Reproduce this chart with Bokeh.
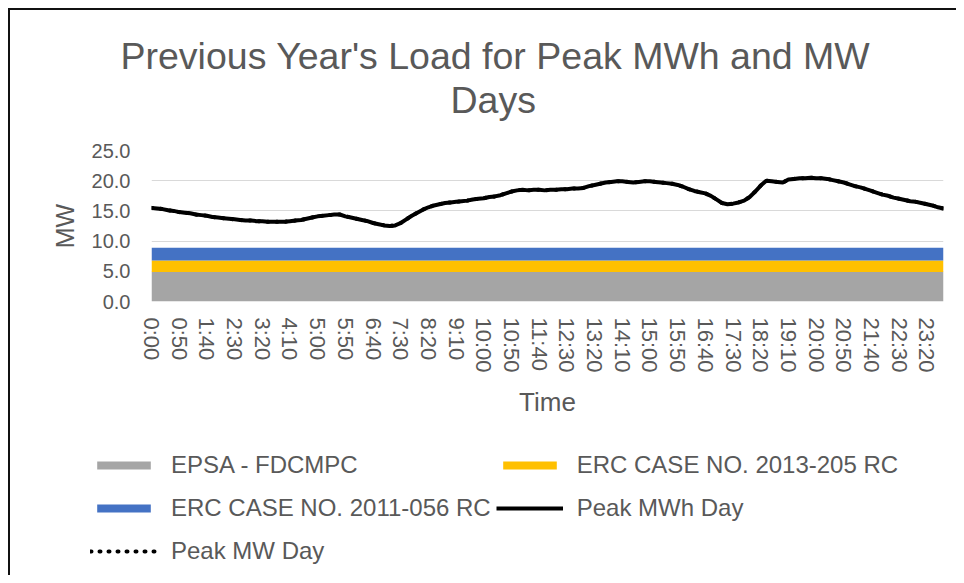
from bokeh.plotting import figure
from bokeh.layouts import column
from bokeh.models import Legend, LegendItem, FixedTicker, Title, ColumnDataSource, Range1d
from bokeh.embed import file_html
from bokeh.resources import INLINE

# ---- data ----
tick_positions = [0, 5, 10, 15, 20, 25, 30, 35, 40, 45, 50, 55, 60, 65, 70,
                  75, 80, 85, 90, 95, 100, 105, 110, 115, 120, 125, 130, 135, 140]
tick_labels = ["0:00", "0:50", "1:40", "2:30", "3:20", "4:10", "5:00", "5:50", "6:40",
               "7:30", "8:20", "9:10", "10:00", "10:50", "11:40", "12:30", "13:20",
               "14:10", "15:00", "15:50", "16:40", "17:30", "18:20", "19:10", "20:00",
               "20:50", "21:40", "22:30", "23:20"]

peak_mwh_day = [
    15.5, 15.4, 15.3, 15.1, 15.0, 14.8, 14.7, 14.6, 14.4, 14.3, 14.2, 14.0,
    13.9, 13.8, 13.7, 13.6, 13.5, 13.4, 13.4, 13.3, 13.3, 13.2, 13.2, 13.2,
    13.2, 13.3, 13.4, 13.5, 13.7, 13.9, 14.1, 14.2, 14.3, 14.4, 14.4, 14.1,
    13.9, 13.7, 13.5, 13.3, 13.0, 12.8, 12.6, 12.5, 12.6, 13.0, 13.6, 14.2,
    14.7, 15.2, 15.6, 15.9, 16.1, 16.3, 16.4, 16.5, 16.6, 16.7, 16.9, 17.0,
    17.1, 17.3, 17.4, 17.6, 17.9, 18.2, 18.4, 18.5, 18.4, 18.5, 18.5, 18.4,
    18.5, 18.5, 18.6, 18.6, 18.7, 18.7, 18.8, 19.1, 19.3, 19.5, 19.7, 19.8,
    19.9, 19.9, 19.8, 19.7, 19.8, 19.9, 19.9, 19.8, 19.7, 19.6, 19.5, 19.3,
    19.0, 18.6, 18.3, 18.1, 17.9, 17.5, 16.9, 16.3, 16.1, 16.2, 16.4, 16.7,
    17.3, 18.2, 19.2, 20.0, 19.9, 19.8, 19.7, 20.2, 20.3, 20.4, 20.4, 20.5,
    20.4, 20.4, 20.3, 20.1, 19.9, 19.7, 19.4, 19.1, 18.9, 18.6, 18.3, 18.0,
    17.7, 17.5, 17.2, 17.0, 16.8, 16.6, 16.5, 16.3, 16.1, 15.9, 15.6, 15.4,
]
peak_mw_day = list(peak_mwh_day)

epsa_fdcmpc_mw = 4.9
erc_2013_205_mw = 1.9
erc_2011_056_mw = 2.1

series_names = ["EPSA - FDCMPC", "ERC CASE NO. 2013-205 RC", "ERC CASE NO. 2011-056 RC",
                "Peak MWh Day", "Peak MW Day"]
area_colors = ["#A5A5A5", "#FFC000", "#4472C4"]

n = len(peak_mwh_day)
src = ColumnDataSource(dict(
    t=list(range(n)),
    epsa=[epsa_fdcmpc_mw] * n,
    erc2013=[erc_2013_205_mw] * n,
    erc2011=[erc_2011_056_mw] * n,
    mwh=peak_mwh_day,
    mw=peak_mw_day,
))

TXT = "#595959"
FONT = "Liberation Sans"


def add_series(fig):
    a = fig.varea_stack(["epsa", "erc2013", "erc2011"], x="t", source=src,
                        color=area_colors)
    l1 = fig.line("t", "mwh", source=src, line_color="black", line_width=4)
    l2 = fig.line("t", "mw", source=src, line_color="black", line_width=4,
                  line_dash="1 8", line_cap="round")
    return a, l1, l2


# ---------- main chart ----------
p = figure(width=946, height=430, output_backend="svg", toolbar_location=None,
           x_range=Range1d(0, n - 1), y_range=Range1d(0, 25),
           min_border_left=141, min_border_right=13, min_border_top=140,
           min_border_bottom=139)
p.outline_line_color = None
p.background_fill_color = "white"
p.border_fill_color = "white"

p.title = Title(text="Previous Year's Load for Peak MWh and MW", align="left",
                offset=-31, standoff=0, text_font=FONT, text_font_size="37.5px",
                text_font_style="normal", text_color=TXT)
# spacer first (closest to the plot), then the second title line
p.add_layout(Title(text=" ", align="left", standoff=27, text_font=FONT,
                   text_font_size="1px", text_color="white"), "above")
p.add_layout(Title(text="Days", align="left", offset=299, standoff=0,
                   text_font=FONT, text_font_size="37.5px",
                   text_font_style="normal", text_color=TXT), "above")

add_series(p)

p.yaxis.ticker = FixedTicker(ticks=[0, 5, 10, 15, 20, 25])
p.yaxis.major_label_overrides = {v: f"{v:.1f}" for v in [0, 5, 10, 15, 20, 25]}
p.yaxis.axis_label = "MW"
p.xaxis.ticker = FixedTicker(ticks=tick_positions)
p.xaxis.major_label_overrides = dict(zip(tick_positions, tick_labels))
p.xaxis.major_label_orientation = "vertical"
p.xaxis.axis_label = "Time"
for ax in (p.xaxis[0], p.yaxis[0]):
    ax.axis_line_color = None
    ax.major_tick_line_color = None
    ax.minor_tick_line_color = None
    ax.major_label_text_color = TXT
    ax.major_label_text_font = FONT
    ax.axis_label_text_color = TXT
    ax.axis_label_text_font = FONT
    ax.axis_label_text_font_style = "normal"
p.yaxis.major_label_text_font_size = "20px"
p.xaxis.major_label_text_font_size = "22px"
p.yaxis.axis_label_text_font_size = "25px"
p.xaxis.axis_label_text_font_size = "26px"
p.yaxis.major_label_standoff = 15
p.yaxis.axis_label_standoff = 10
p.xaxis.major_label_standoff = 10
p.xaxis.axis_label_standoff = 11

p.xgrid.grid_line_color = None
p.ygrid.grid_line_color = "#D9D9D9"
p.ygrid.grid_line_width = 1

# ---------- legend strip (same series, legend only) ----------
lf = figure(width=946, height=135, output_backend="svg", toolbar_location=None,
            x_range=Range1d(0, n - 1), y_range=Range1d(100, 110),
            x_axis_type=None, y_axis_type=None, min_border=0)
lf.outline_line_color = None
lf.grid.visible = False
lf.background_fill_color = "white"
lf.border_fill_color = "white"
la, ll1, ll2 = add_series(lf)

leg_x = 80
if "frame_align" in lf.properties():
    p.frame_align = False
    lf.frame_align = False
else:
    leg_x = 0

# column-major: first column then second column
legend = Legend(items=[
    LegendItem(label=series_names[0], renderers=[la[0]]),
    LegendItem(label=series_names[2], renderers=[la[2]]),
    LegendItem(label=series_names[4], renderers=[ll2]),
    LegendItem(label=series_names[1], renderers=[la[1]]),
    LegendItem(label=series_names[3], renderers=[ll1]),
], orientation="vertical", nrows=3, location=(leg_x, 5),
    glyph_width=67, glyph_height=10, label_height=38, spacing=5,
    label_standoff=14, padding=0, margin=0, border_line_color=None,
    background_fill_alpha=0, label_text_font=FONT, label_text_font_size="24px",
    label_text_color=TXT)
lf.add_layout(legend, "center")

layout = column(p, lf, spacing=0,
                styles={"margin-left": "8px", "margin-top": "8px",
                        "border-left": "2px solid #111", "border-top": "2px solid #111"})

open("out.html", "w").write(file_html(layout, INLINE))
